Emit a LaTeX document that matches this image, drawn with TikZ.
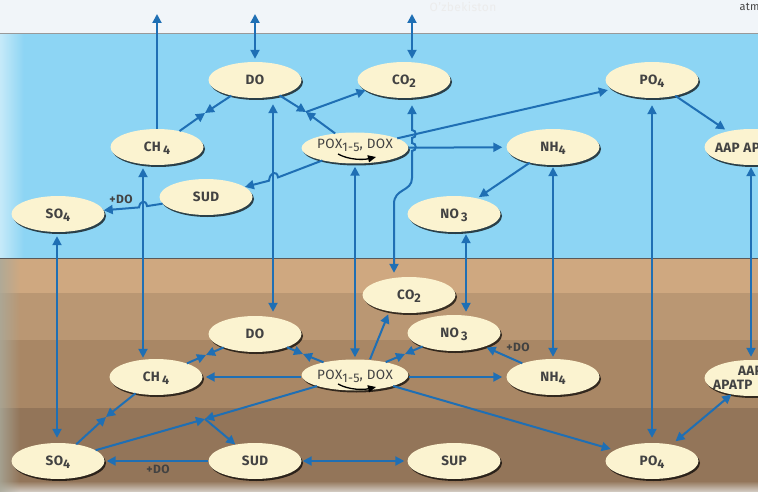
\documentclass[tikz,border=0pt]{standalone}
\usepackage{fontspec}
\setmainfont{Fira Sans}[LetterSpace=3]
\usetikzlibrary{shapes.geometric,arrows.meta,shadows,fadings,calc}

\definecolor{sky}{HTML}{F1F5F9}
\definecolor{water}{HTML}{8DD5F4}
\definecolor{soilA}{HTML}{CFA880}
\definecolor{soilB}{HTML}{BA9773}
\definecolor{soilC}{HTML}{A98765}
\definecolor{soilD}{HTML}{937559}
\definecolor{bottomfade}{HTML}{D6D0C8}
\definecolor{poolfill}{HTML}{FBF3D0}
\definecolor{flow}{HTML}{1F6FB4}
\definecolor{ink}{HTML}{424242}
\definecolor{mapgrey}{HTML}{A9AA9C}

\newcommand{\lowsub}[1]{\raisebox{-3pt}{\fontsize{12.5}{13}\selectfont #1}}

\begin{document}
\begin{tikzpicture}[x=1pt, y=-1pt,
  pool/.style={ellipse, fill=poolfill, minimum width=93pt, minimum height=36pt, inner sep=0pt, text=ink, font=\fontsize{13.5}{14}\selectfont\bfseries, text height=9pt, text depth=0pt, drop shadow={shadow xshift=1.5pt, shadow yshift=-2pt, opacity=0.7, fill=black}},
  pool wide/.style={pool, text height=, text depth=},
  flow/.style={draw=flow, line width=2pt, -{Triangle[length=9pt, width=9pt]}},
  flow both/.style={flow, {Triangle[length=9pt, width=9pt]}-{Triangle[length=9pt, width=9pt]}},
  turn/.style={line width=1.3pt, ink, -{Triangle[length=8pt, width=7pt]}, black},
  note/.style={text=ink, font=\fontsize{12}{12}\selectfont\bfseries}]

\useasboundingbox (0,0) rectangle (758,492);
\clip (0,0) rectangle (758,492);

\fill[sky] (0,0) rectangle (758,34);
\fill[water] (0,34) rectangle (758,258);
\fill[soilA] (0,258) rectangle (758,293);
\fill[soilB] (0,293) rectangle (758,340);
\fill[soilC] (0,340) rectangle (758,408);
\fill[soilD] (0,408) rectangle (758,492);
\shade[top color=soilD, bottom color=bottomfade] (0,481) rectangle (758,492);
\fill[white, opacity=0.5, path fading=east] (0,34) rectangle (24,258);
\fill[mapgrey, opacity=0.8, path fading=east] (0,258) rectangle (20,492);
\draw[line width=1pt, color=gray!80] (0,34) -- (758,34);
\draw[line width=1pt, color=gray!70!black] (0,258.5) -- (758,258.5);

\node[text=gray!15, font=\fontsize{12}{12}\selectfont] (map country) at (463,7) {O'zbekiston};
\node[anchor=west, text=ink, font=\fontsize{11}{12}\selectfont] (map atmosphere) at (736,7) {atm};

\node[pool] (do water) at (255,80) {DO};
\node[pool] (co2 water) at (404,80) {CO\lowsub{2}};
\node[pool] (po4 water) at (652,80) {PO\lowsub{4}};
\node[pool] (ch4 water) at (157,147) {CH\,\lowsub{4}};
\node[pool, minimum width=94pt, minimum height=31pt, text height=1pt, font=\fontsize{13.5}{14}\selectfont] (pox water) at (355,148) {POX\lowsub{1-5}, DOX};
\node[pool] (nh4 water) at (553,147) {NH\lowsub{4}};
\node[pool] (aap water) at (751,147) {\makebox[0pt]{\parbox{72pt}{AAP AP}}};
\node[pool] (sud water) at (206,197) {SUD};
\node[pool] (so4 water) at (58,214) {SO\lowsub{4}};
\node[pool] (no3 water) at (454,214) {NO\,\lowsub{3}};

\node[pool] (co2 sediment) at (409,295) {CO\lowsub{2}};
\node[pool] (do sediment) at (255,334) {DO};
\node[pool] (no3 sediment) at (454,333) {NO\,\lowsub{3}};
\node[pool] (ch4 sediment) at (156,377) {CH\,\lowsub{4}};
\node[pool, minimum width=94pt, minimum height=31pt, text height=8pt, font=\fontsize{13.5}{14}\selectfont] (pox sediment) at (355,375) {POX\lowsub{1-5}, DOX};
\node[pool] (nh4 sediment) at (553,377) {NH\lowsub{4}};
\node[pool wide] (aap sediment) at (751,378) {\makebox[0pt]{\parbox{76pt}{\fontsize{13.5}{14}\selectfont\hspace*{25pt}AAP\\APATP}}};
\node[pool] (so4 sediment) at (58,461) {SO\lowsub{4}};
\node[pool] (sud sediment) at (255,461) {SUD};
\node[pool] (sup sediment) at (454,461) {SUP};
\node[pool] (po4 sediment) at (652,461) {PO\lowsub{4}};

\draw[turn] ($(pox water)+(-17,6)$) .. controls ($(pox water)+(-6,12)$) and ($(pox water)+(8,12)$) .. ($(pox water)+(21,9)$);
\draw[turn] ($(pox sediment)+(-17,9)$) .. controls ($(pox sediment)+(-6,15)$) and ($(pox sediment)+(8,15)$) .. ($(pox sediment)+(21,12)$);

\coordinate (ch4 air) at (157,14);
\coordinate (do air) at (255,14);
\coordinate (co2 air) at (412,14);
\draw[flow] (ch4 water) -- (ch4 air);
\draw[flow both, shorten <=3pt] (do water) -- (do air);
\draw[flow both, shorten <=3pt] ([xshift=8pt]co2 water.north) -- (co2 air);

\coordinate (ch4 oxidation water) at (205,113);
\draw[flow] (do water) -- (ch4 oxidation water);
\draw[flow] (ch4 water) -- (ch4 oxidation water);
\coordinate (pox oxidation water) at (306,112);
\draw[flow] (do water) -- (pox oxidation water);
\draw[flow] (pox water) -- (pox oxidation water);
\draw[flow] (pox oxidation water) -- (co2 water.195);

\draw[flow, shorten >=4pt] (pox water) -- (po4 water);
\draw[flow, shorten >=4pt] (pox water) -- (nh4 water);
\draw[flow both, shorten <=7pt, shorten >=4pt] ([xshift=8pt]co2 water.south) -- (412,130) .. controls (417,130) and (417,138) .. (412,138) -- (412,143) .. controls (417,143) and (417,151) .. (412,151) -- (412,178) .. controls (412,192) and (394,188) .. (394,204) -- ([xshift=-15pt]co2 sediment.north);
\draw[flow] (pox water) -- (278,177.4) .. controls (277,170) and (270,172) .. (269,180.7) -- (sud water);
\draw[flow] (sud water) -- (147,206.1) .. controls (146,199.5) and (140,200.5) .. (139,207.4) -- (so4 water);
\node[note] (plus do water) at (121,199) {+DO};

\draw[flow both, shorten <=3pt, shorten >=1pt] ([xshift=-14pt]ch4 water.south) -- ([xshift=-13pt]ch4 sediment.north);
\draw[flow both, shorten <=4pt, shorten >=5pt] ([xshift=-1pt]so4 water.south) -- ([xshift=-1pt]so4 sediment.north);
\draw[flow both, shorten <=6pt, shorten >=4pt] ([xshift=18pt]do water.south) -- ([xshift=18pt]do sediment.north);
\draw[flow both, shorten <=3pt, shorten >=2pt] (pox water) -- (pox sediment);
\draw[flow both, shorten <=2pt, shorten >=3pt] ([xshift=12pt]no3 water.south) -- ([xshift=12pt]no3 sediment.north);
\draw[flow, shorten >=2pt] (nh4 water) -- (no3 water);
\draw[flow both, shorten <=2pt, shorten >=2pt] (nh4 water) -- (nh4 sediment);
\draw[flow both, shorten <=7pt, shorten >=5pt] (po4 water) -- (po4 sediment);
\draw[flow, shorten >=3pt] (po4 water) -- (aap water);
\draw[flow both, shorten <=2pt, shorten >=3pt] (aap water) -- (aap sediment);
\draw[flow both, shorten >=5pt] (aap sediment) -- (po4 sediment);

\coordinate (ch4 oxidation sediment) at (206,355);
\draw[flow] (do sediment) -- (ch4 oxidation sediment);
\draw[flow] (ch4 sediment) -- (ch4 oxidation sediment);
\coordinate (pox oxidation sediment) at (303,354);
\draw[flow] (do sediment) -- (pox oxidation sediment);
\draw[flow] (pox sediment) -- (pox oxidation sediment);
\coordinate (denitrification sediment) at (405,354);
\draw[flow] (no3 sediment) -- (denitrification sediment);
\draw[flow] (pox sediment) -- (denitrification sediment);
\draw[flow, shorten >=3pt] ([xshift=15pt]pox sediment.north) -- (co2 sediment.220);
\draw[flow, shorten >=2pt] (nh4 sediment) -- (no3 sediment);
\node[note] (plus do nitrification) at (518,347) {+DO};
\draw[flow, shorten >=4pt] ([yshift=-2pt]pox sediment.east) -- (nh4 sediment.west);
\draw[flow, shorten >=3pt] ([yshift=-2pt]pox sediment.west) -- (ch4 sediment.east);
\draw[flow, shorten >=4pt] (pox sediment) -- (po4 sediment);
\coordinate (sulfate reduction sediment) at (205,419);
\draw[flow] (pox sediment) -- (sulfate reduction sediment);
\draw[flow] (so4 sediment) -- (sulfate reduction sediment);
\draw[flow] (sulfate reduction sediment) -- (sud sediment);
\coordinate (ch4 sulfate sediment) at (106,417);
\draw[flow] (ch4 sediment) -- (ch4 sulfate sediment);
\draw[flow] (so4 sediment) -- (ch4 sulfate sediment);
\draw[flow, shorten >=2pt] (sud sediment) -- (so4 sediment);
\node[note] (plus do sulfide) at (158,469) {+DO};
\draw[flow both, shorten <=1pt, shorten >=3pt] (sud sediment) -- (sup sediment);
\end{tikzpicture}
\end{document}
